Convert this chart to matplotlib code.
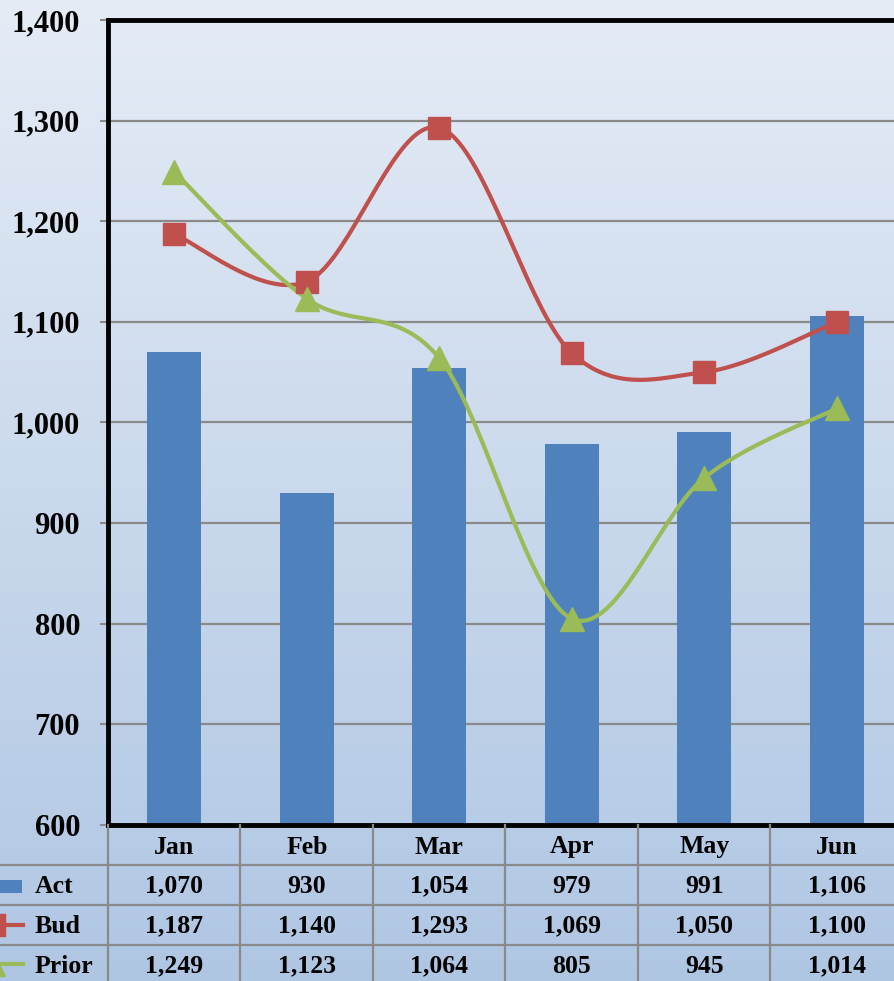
import numpy as np
import matplotlib.pyplot as plt
from matplotlib.colors import LinearSegmentedColormap

months = ['Jan', 'Feb', 'Mar', 'Apr', 'May', 'Jun']
act = [1070, 930, 1054, 979, 991, 1106]
bud = [1187, 1140, 1293, 1069, 1050, 1100]
prior = [1249, 1123, 1064, 805, 945, 1014]
yticks = [600, 700, 800, 900, 1000, 1100, 1200, 1300, 1400]

BLUE = '#4F81BD'
RED = '#C0504D'
GREEN = '#9BBB59'
GRID = '#8A8A8A'


def smooth(x, y, n=40):
    # excel style smoothed line (bezier through the points)
    pts = np.column_stack([x, y]).astype(float)
    ext = np.vstack([pts[0], pts, pts[-1]])
    out = []
    t = np.linspace(0, 1, n)[:, None]
    for i in range(len(pts) - 1):
        p0, p1, p2, p3 = ext[i], ext[i + 1], ext[i + 2], ext[i + 3]
        c1 = p1 + (p2 - p0) / 6
        c2 = p2 - (p3 - p1) / 6
        seg = (1 - t)**3 * p1 + 3 * (1 - t)**2 * t * c1 + 3 * (1 - t) * t**2 * c2 + t**3 * p2
        out.append(seg if i == 0 else seg[1:])
    s = np.vstack(out)
    return s[:, 0], s[:, 1]


def main():
    plt.rcParams['font.family'] = ['Liberation Serif', 'DejaVu Serif']
    plt.rcParams['font.weight'] = 'bold'

    W, H = 894, 981
    fig = plt.figure(figsize=(W / 100, H / 100), dpi=100)

    # background gradient
    bg = fig.add_axes([0, 0, 1, 1], zorder=-5)
    cmap = LinearSegmentedColormap.from_list('bg', ['#AFC6E3', '#E5ECF6'])
    grad = np.linspace(0, 1, 256).reshape(-1, 1)
    bg.imshow(grad, aspect='auto', cmap=cmap, extent=[0, 1, 0, 1], origin='lower')
    bg.axis('off')

    # plot area
    left, right, top, bottom = 108, 903, 20, 825
    ax = fig.add_axes([left / W, 1 - bottom / H, (right - left) / W, (bottom - top) / H])
    ax.patch.set_alpha(0)
    x = np.arange(len(months)) + 0.5

    ax.bar(x, act, width=0.41, color=BLUE, zorder=2)
    for vals, col, mk, ms in [(bud, RED, 's', 16.5), (prior, GREEN, '^', 17.5)]:
        sx, sy = smooth(x, vals)
        ax.plot(sx, sy, color=col, lw=3, zorder=3, solid_capstyle='round')
        ax.plot(x, vals, ls='none', marker=mk, ms=ms, color=col, mec=col, zorder=4)

    ax.set_xlim(0, len(months))
    ax.set_ylim(600, 1400)
    ax.set_yticks(yticks)
    ax.set_yticklabels([f'{v:,}' for v in yticks])
    ax.set_xticks([])
    ax.tick_params(axis='y', length=6, width=1.5, color=GRID, pad=14, labelsize=22)
    ax.yaxis.grid(True, color=GRID, lw=1.6)
    ax.set_axisbelow(True)
    for s in ['left', 'top', 'bottom']:
        ax.spines[s].set_linewidth(3.5)
        ax.spines[s].set_color('black')
    ax.spines['right'].set_visible(False)

    # data table under the chart
    cw = (right - left) / len(months)
    tb = fig.add_axes([0, -4 / H, right / W, 160 / H])
    tb.set_xlim(-left / cw, len(months))
    tb.set_ylim(4, 0)
    tb.axis('off')
    x0 = -left / cw
    for r in [1, 2, 3]:
        tb.plot([x0, len(months)], [r, r], color=GRID, lw=1.6, clip_on=False)
    for c in range(len(months) + 1):
        tb.plot([c, c], [0, 4], color=GRID, lw=1.6, clip_on=False)

    fs = 18.5
    for i, m in enumerate(months):
        tb.text(i + 0.5, 0.55, m, ha='center', va='center', fontsize=fs, fontweight='bold')
    rows = [('Act', act), ('Bud', bud), ('Prior', prior)]
    for r, (name, vals) in enumerate(rows):
        yc = r + 1.53
        for i, v in enumerate(vals):
            tb.text(i + 0.5, yc, f'{v:,}', ha='center', va='center', fontsize=fs, fontweight='bold')
        tb.text(x0 + 35 / cw, yc, name, ha='left', va='center', fontsize=fs, fontweight='bold')

    # legend keys
    kx = [x0, x0 + 23 / cw]
    tb.add_patch(plt.Rectangle((x0, 1.53 - 0.16), 22 / cw, 0.32, color=BLUE, lw=0))
    tb.plot(kx, [2.5, 2.5], color=RED, lw=3, clip_on=False)
    tb.plot([x0 - 6 / cw], [2.5], marker='s', ms=16.5, color=RED, clip_on=False)
    tb.plot(kx, [3.47, 3.47], color=GREEN, lw=3, clip_on=False)
    tb.plot([x0 - 7 / cw], [3.47], marker='^', ms=17.5, color=GREEN, clip_on=False)

    fig.savefig('out.png', dpi=100)


if __name__ == '__main__':
    main()
